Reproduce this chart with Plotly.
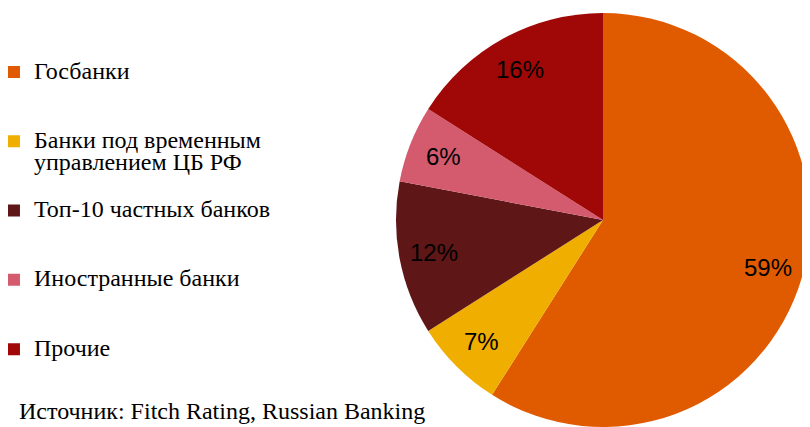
import math
import plotly.graph_objects as go

labels = ["Госбанки", "Банки под временным<br>управлением ЦБ РФ", "Топ-10 частных банков",
          "Иностранные банки", "Прочие"]
values = [59, 7, 12, 6, 16]
colors = ["#E05A00", "#F0AE00", "#5E1616", "#D45A6E", "#A00808"]
source_text = "Источник: Fitch Rating, Russian Banking"

# the page body adds an 8px margin, so the figure is 802x419
W, H = 802, 419
MT = 5
plot_h = H - MT
dom_x0 = (W - plot_h) / W

SPAN = '<span style="font-size:24px">'


def legend_label(lab):
    lines = lab.split("<br>")
    lines = [SPAN + ln + "</span>" for ln in lines]
    while len(lines) < 3:
        lines.append(" ")
    return "<br>".join(lines)


legend_labels = [legend_label(lab) for lab in labels]

fig = go.Figure(go.Pie(
    labels=legend_labels,
    values=values,
    sort=False,
    direction="clockwise",
    rotation=0,
    marker=dict(colors=colors, line=dict(width=0)),
    textinfo="none",
    domain=dict(x=[dom_x0, 1], y=[0, 1]),
    hoverinfo="percent",
))

# percentage labels placed along each slice's bisector (derived from the values)
total = sum(values)
cx = (dom_x0 + 1) / 2
cy = 0.5
rx = plot_h / 2 / W
ry = 0.5
k = 0.83
annotations = []
cum = 0
for v in values:
    mid = (cum + v / 2) / total * 2 * math.pi
    cum += v
    annotations.append(dict(
        text=f"{round(v / total * 100)}%",
        x=cx + k * rx * math.sin(mid), y=cy + k * ry * math.cos(mid),
        xref="paper", yref="paper", xanchor="center", yanchor="middle", showarrow=False,
        font=dict(family="Liberation Sans, Arial, sans-serif", size=24, color="black"),
    ))

annotations.append(dict(
    text=source_text, x=9 / W, y=16 / plot_h, xref="paper", yref="paper",
    xanchor="left", yanchor="middle", showarrow=False,
    font=dict(family="Liberation Serif, Times New Roman, serif", size=24, color="black"),
))

fig.update_layout(
    width=W, height=H,
    margin=dict(l=0, r=0, t=MT, b=0, autoexpand=False),
    paper_bgcolor="white",
    plot_bgcolor="white",
    showlegend=True,
    legend=dict(
        x=-0.0175, xanchor="left", y=0.900, yanchor="top",
        valign="top",
        font=dict(family="Liberation Serif, Times New Roman, serif", size=17, color="black"),
        bgcolor="rgba(0,0,0,0)",
        traceorder="normal",
    ),
    annotations=annotations,
)

fig.write_html("out.html")
